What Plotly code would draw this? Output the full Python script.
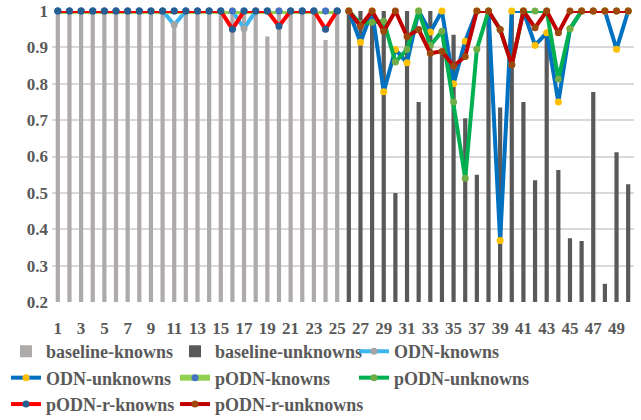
import plotly.graph_objects as go

categories = list(range(1, 51))
known_cats = categories[:25]
unknown_cats = categories[25:]

x_tick_vals = list(range(1, 50, 2))
x_tick_labels = [str(v) for v in x_tick_vals]
y_tick_vals = [0.2, 0.3, 0.4, 0.5, 0.6, 0.7, 0.8, 0.9, 1.0]
y_tick_labels = ["0.2", "0.3", "0.4", "0.5", "0.6", "0.7", "0.8", "0.9", "1"]

baseline_knowns = [1, 1, 1, 1, 1, 1, 1, 1, 1, 1,
                   0.965, 1, 1, 1, 1, 1, 1, 1, 0.93, 1,
                   1, 1, 1, 0.92, 1]
baseline_unknowns = [1, 1, 1, 1, 0.5, 1, 0.75, 1, 0.88, 0.935,
                     0.705, 0.55, 1, 0.735, 1, 0.75, 0.535, 0.94, 0.563, 0.375,
                     0.368, 0.777, 0.25, 0.612, 0.524]

odn_knowns = [1, 1, 1, 1, 1, 1, 1, 1, 1, 1,
              0.962, 1, 1, 1, 1, 1, 0.952, 1, 1, 1,
              1, 1, 1, 1, 1]
odn_unknowns = [1, 0.914, 1, 0.778, 0.894, 0.858, 1, 0.942, 1, 0.80,
                0.917, 1, 1, 0.369, 1, 1, 0.906, 0.94, 0.75, 0.951,
                1, 1, 1, 0.895, 1]

podn_knowns = [1] * 25
podn_unknowns = [1, 0.965, 0.969, 0.972, 0.86, 0.894, 1, 0.905, 0.944, 0.75,
                 0.54, 0.895, 1, 0.949, 0.852, 1, 1, 1, 0.813, 0.951,
                 1, 1, 1, 1, 1]

podn_r_knowns = [1, 1, 1, 1, 1, 1, 1, 1, 1, 1,
                 1, 1, 1, 1, 1, 0.95, 1, 1, 1, 0.958,
                 1, 1, 1, 0.95, 1]
podn_r_unknowns = [1, 0.958, 1, 0.944, 1, 0.93, 0.949, 0.884, 0.889, 0.849,
                   0.875, 1, 1, 0.949, 0.852, 1, 0.954, 1, 0.94, 1,
                   1, 1, 1, 1, 1]

FONT = "Liberation Serif"
TXT = "#595959"

fig = go.Figure()
fig.add_trace(go.Bar(x=known_cats, y=baseline_knowns, name="baseline-knowns",
                     marker=dict(color="#AEAAAA", line=dict(width=0)), width=0.36,
                     legend="legend"))
fig.add_trace(go.Bar(x=unknown_cats, y=baseline_unknowns, name="baseline-unknowns",
                     marker=dict(color="#595959", line=dict(width=0)), width=0.36,
                     legend="legend2"))

def line(x, y, name, lc, mc, leg, lw=4):
    fig.add_trace(go.Scatter(x=x, y=y, name=name, mode="lines+markers",
                             line=dict(color=lc, width=lw),
                             marker=dict(color=mc, size=7, line=dict(width=0)),
                             cliponaxis=False, legend=leg))

line(known_cats, odn_knowns, "ODN-knowns", "#3DB5EE", "#A5A5A5", "legend3")
line(unknown_cats, odn_unknowns, "ODN-unknowns", "#0070C0", "#FFC000", "legend")
line(known_cats, podn_knowns, "pODN-knowns", "#92D050", "#4472C4", "legend2", lw=6)
line(unknown_cats, podn_unknowns, "pODN-unknowns", "#00B050", "#70AD47", "legend3")
line(known_cats, podn_r_knowns, "pODN-r-knowns", "#FF0000", "#255E91", "legend")
line(unknown_cats, podn_r_unknowns, "pODN-r-unknowns", "#C00000", "#9E480E", "legend2")

def leg(xpx):
    return dict(orientation="v", xref="container", yref="container",
                x=xpx / 641, y=0.207, xanchor="left", yanchor="top",
                itemwidth=30, traceorder="normal", bgcolor="rgba(0,0,0,0)",
                font=dict(family=FONT, size=18, color=TXT, weight="bold"))

fig.update_layout(
    width=641, height=420,
    margin=dict(l=52, r=7, t=11, b=118, autoexpand=False),
    paper_bgcolor="white", plot_bgcolor="white",
    barmode="overlay",
    showlegend=True,
    legend=leg(6), legend2=leg(175), legend3=leg(354),
    font=dict(family=FONT, color=TXT),
)
fig.update_xaxes(range=[0.5, 50.5], tickmode="array", tickvals=x_tick_vals,
                 ticktext=x_tick_labels, showgrid=False, zeroline=False,
                 showline=False, ticks="", ticklabelstandoff=14,
                 tickfont=dict(family=FONT, size=17, color=TXT, weight="bold"))
fig.update_yaxes(range=[0.2, 1.0], tickmode="array", tickvals=y_tick_vals,
                 ticktext=y_tick_labels, showgrid=True, gridcolor="#D9D9D9",
                 gridwidth=1.5, zeroline=False, showline=False, ticks="",
                 ticklabelstandoff=3,
                 tickfont=dict(family=FONT, size=17, color=TXT, weight="bold"))

fig.write_html("out.html", config={"displayModeBar": False},
               post_script="document.body.style.margin='0';")
